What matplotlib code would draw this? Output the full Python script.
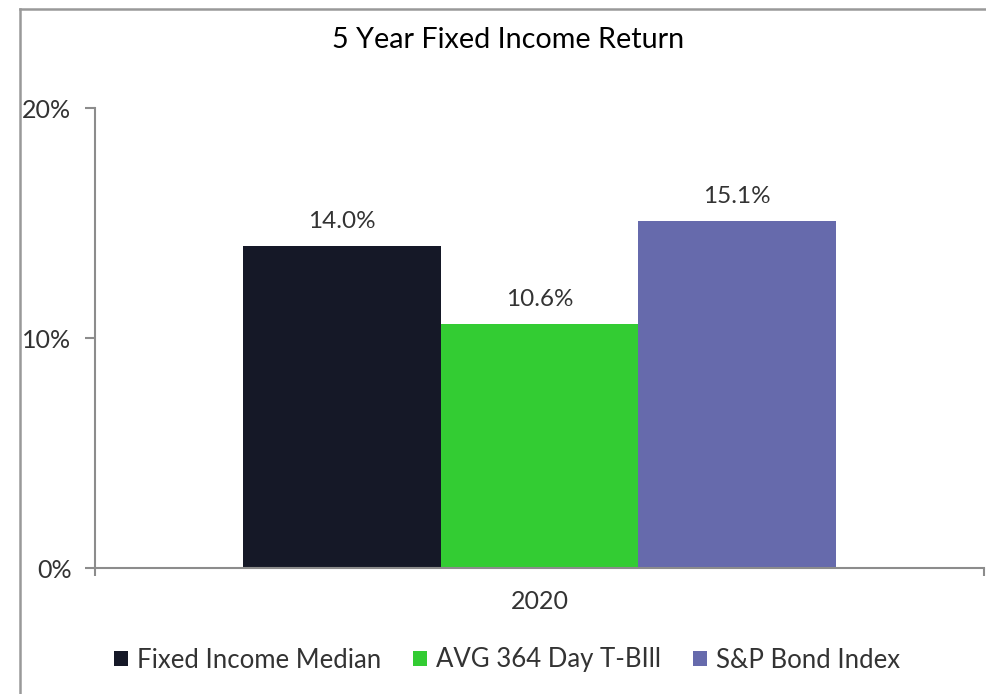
import matplotlib
matplotlib.use("Agg")
import matplotlib.pyplot as plt
from matplotlib.patches import Patch
from matplotlib.lines import Line2D
from matplotlib.ticker import FuncFormatter

plt.rcParams['font.family'] = ['Lato', 'DejaVu Sans']

categories = ["2020"]
series_names = ["Fixed Income Median", "AVG 364 Day T-BIll", "S&P Bond Index"]
series_values = [14.0, 10.6, 15.1]
colors = ["#151827", "#33CC33", "#666AAC"]
yticks = [0, 10, 20]

W, H = 987, 694
fig = plt.figure(figsize=(W / 100, H / 100), dpi=100)
ax = fig.add_axes([95 / W, 1 - 568 / H, (984 - 95) / W, (568 - 108) / H])

bw = 2 / 3 / 3
txt_color = "#333333"
for i, (name, v, c) in enumerate(zip(series_names, series_values, colors)):
    x = (i - 1) * bw
    ax.bar(x, v, width=bw, color=c, label=name, zorder=2)
    ax.text(x, v + 0.6, f"{v:.1f}%", ha="center", va="bottom",
            fontsize=17.5, color=txt_color)

ax.set_xlim(-0.5, 0.5)
ax.set_ylim(0, 20)
ax.set_yticks(yticks)
ax.yaxis.set_major_formatter(FuncFormatter(lambda v, p: f"{v:.0f}%"))
ax.set_xticks([0])
ax.set_xticklabels(categories)
ax.set_xticks([-0.5, 0.5], minor=True)

spine_c = "#8c8c8c"
for s in ["top", "right"]:
    ax.spines[s].set_visible(False)
ax.spines["left"].set_color(spine_c)
ax.spines["bottom"].set_color(spine_c)
ax.spines["left"].set_linewidth(1.5)
ax.spines["bottom"].set_linewidth(1.5)
ax.tick_params(axis="y", length=7, width=1.5, color=spine_c, labelsize=18,
               labelcolor=txt_color, pad=10)
ax.tick_params(axis="x", which="major", length=0, labelsize=18,
               labelcolor=txt_color, pad=16)
ax.tick_params(axis="x", which="minor", length=6, width=1.5, color=spine_c)

fig.text(508 / W, 1 - 40 / H, "5 Year Fixed Income Return", ha="center",
         va="center", fontsize=20.7, color="#000000")

handles = [Patch(facecolor=c, edgecolor="none") for c in colors]
leg = fig.legend(handles, series_names, loc="center", bbox_to_anchor=(507 / W, 1 - 660 / H),
                 ncol=3, frameon=False, handlelength=0.55, handleheight=0.55,
                 handletextpad=0.35, columnspacing=1.25,
                 prop={"size": 18.5})
for t in leg.get_texts():
    t.set_color(txt_color)

# figure border
bc = "#999999"
fig.add_artist(Line2D([20 / W, 20 / W], [1 - 9 / H, -0.05], color=bc, lw=1.8,
                      transform=fig.transFigure))
fig.add_artist(Line2D([20 / W, 1.05], [1 - 9 / H, 1 - 9 / H], color=bc, lw=1.8,
                      transform=fig.transFigure))

fig.savefig("out.png", dpi=100)
